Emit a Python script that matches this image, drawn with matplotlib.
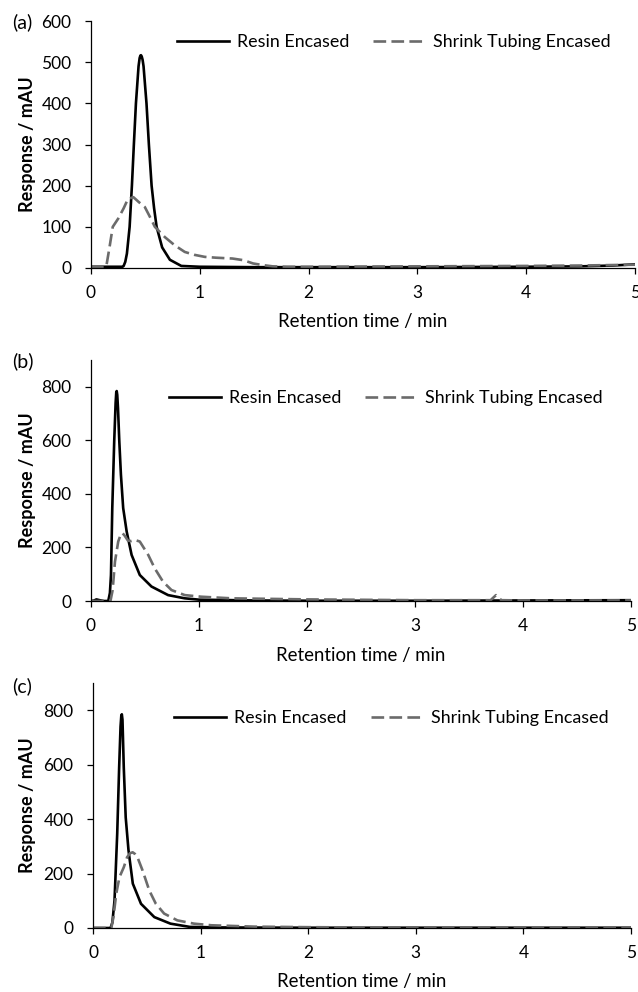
import matplotlib
matplotlib.use("Agg")
import matplotlib.pyplot as plt

plt.rcParams['font.family'] = ['Lato', 'DejaVu Sans']
plt.rcParams['font.size'] = 12.5

# panel (a)
ta_resin = [0, 0.10, 0.20, 0.29, 0.30, 0.315, 0.33, 0.355, 0.376, 0.394, 0.413, 0.437, 0.447, 0.454, 0.459,
            0.466, 0.474, 0.483, 0.510, 0.532, 0.557, 0.58, 0.603, 0.654, 0.725, 0.83, 1.0, 1.5, 2, 3, 4, 4.5, 4.8, 5]
va_resin = [3, 3, 3, 3, 5, 15, 35, 100, 200, 300, 400, 490, 510, 516, 517,
            514, 506, 490, 400, 300, 200, 145, 100, 50, 20, 5, 3, 2, 2, 2, 3, 4, 6, 9]
ta_shrink = [0, 0.10, 0.14, 0.17, 0.20, 0.25, 0.30, 0.34, 0.39, 0.44, 0.495, 0.54, 0.587, 0.679,
             0.77, 0.862, 0.95, 1.046, 1.15, 1.30, 1.40, 1.49, 1.58, 1.67, 1.8, 2, 3, 4, 4.5, 5]
va_shrink = [3, 3, 3, 50, 100, 120, 145, 168, 172, 160, 148, 125, 100, 75,
             55, 39, 32, 27, 25, 23, 19, 11, 7, 4, 3, 3, 4, 5, 6, 8]

# panel (b)
tb_resin = [0, 0.03, 0.05, 0.08, 0.12, 0.16, 0.175, 0.185, 0.197, 0.215, 0.228, 0.234, 0.238, 0.243, 0.250,
            0.262, 0.277, 0.298, 0.33, 0.376, 0.452, 0.56, 0.714, 0.868, 1.0, 1.5, 2, 3, 4, 5]
vb_resin = [0, 2, 6, 3, 0, 0, 30, 97, 347, 597, 740, 780, 784, 770, 720,
            597, 472, 347, 260, 172, 97, 54, 22, 10, 5, 2, 1, 1, 2, 3]
tb_shrink = [0, 0.05, 0.10, 0.18, 0.20, 0.222, 0.252, 0.275, 0.29, 0.31, 0.343, 0.375, 0.406, 0.452, 0.53, 0.59,
             0.667, 0.745, 0.868, 1.02, 1.3, 2, 3, 3.70, 3.75, 3.80, 4, 5]
vb_shrink = [0, 0, 0, 0, 40, 147, 222, 248, 254, 245, 225, 224, 228, 222, 172, 122,
             72, 41, 22, 16, 10, 6, 3, 3, 22, 3, 2, 2]

# panel (c)
tc_resin = [0, 0.10, 0.163, 0.18, 0.20, 0.225, 0.243, 0.256, 0.263, 0.268, 0.274, 0.286, 0.304, 0.33, 0.37, 0.446,
            0.57, 0.72, 0.9, 1.2, 2, 3, 4, 5]
vc_resin = [0, 0, 0, 20, 101, 346, 590, 740, 780, 785, 765, 590, 406, 285, 163, 89,
            40, 16, 4, 2, 1, 1, 1, 1]
tc_shrink = [0, 0.10, 0.17, 0.19, 0.216, 0.246, 0.286, 0.317, 0.345, 0.369, 0.39, 0.415, 0.461, 0.523, 0.584,
             0.661, 0.784, 0.938, 1.1, 1.5, 2, 3, 4, 5]
vc_shrink = [0, 0, 0, 40, 126, 187, 223, 260, 275, 278, 272, 258, 211, 138, 89,
             53, 28, 16, 10, 5, 3, 1, 1, 1]

panels = [
    ("(a)", ta_resin, va_resin, ta_shrink, va_shrink, 600, 100, [91, 21, 635, 268], 0.557, 0.915, 22),
    ("(b)", tb_resin, vb_resin, tb_shrink, vb_shrink, 900, 200, [91, 360, 631, 601], 0.546, 0.842, 361),
    ("(c)", tc_resin, vc_resin, tc_shrink, vc_shrink, 900, 200, [93, 683, 631, 928], 0.554, 0.857, 686),
]

W, H = 638, 992
fig = plt.figure(figsize=(W / 100, H / 100), dpi=100)

for label, tr, vr, ts, vs, ymax, ystep, box, lx, ly, labely in panels:
    x0, y0, x1, y1 = box
    ax = fig.add_axes([x0 / W, 1 - y1 / H, (x1 - x0) / W, (y1 - y0) / H])
    ax.plot(tr, vr, color='black', lw=1.9, label='Resin Encased')
    ax.plot(ts, vs, color='#6b6b6b', lw=1.9, dashes=(4.8, 2.0), label='Shrink Tubing Encased')
    ax.set_xlim(0, 5)
    ax.set_ylim(0, ymax)
    ax.set_xticks(range(6))
    ax.set_yticks(list(range(0, ymax + 1, ystep)) if ymax % ystep == 0 else list(range(0, ymax, ystep)))
    for s in ['top', 'right']:
        ax.spines[s].set_visible(False)
    for s in ['left', 'bottom']:
        ax.spines[s].set_linewidth(0.9)
    ax.tick_params(direction='out', length=4, width=0.9, labelsize=12.5)
    ax.tick_params(axis='x', pad=8)
    ax.tick_params(axis='y', pad=10)
    ax.legend(loc='center', ncol=2, frameon=False, bbox_to_anchor=(lx, ly),
              handlelength=2.9, handletextpad=0.45, columnspacing=1.35, fontsize=12.9)
    fig.text((x0 + x1) / 2 / W, 1 - (y1 + 54) / H, 'Retention time / min',
             fontsize=13.4, ha='center', va='center')
    fig.text(27 / W, 1 - (y0 + y1) / 2 / H, 'Response / mAU', fontsize=13,
             fontweight='bold', rotation=90, ha='center', va='center')
    fig.text(12 / W, 1 - labely / H, label, fontsize=14, va='center', ha='left')

fig.savefig('out.png', dpi=100)
